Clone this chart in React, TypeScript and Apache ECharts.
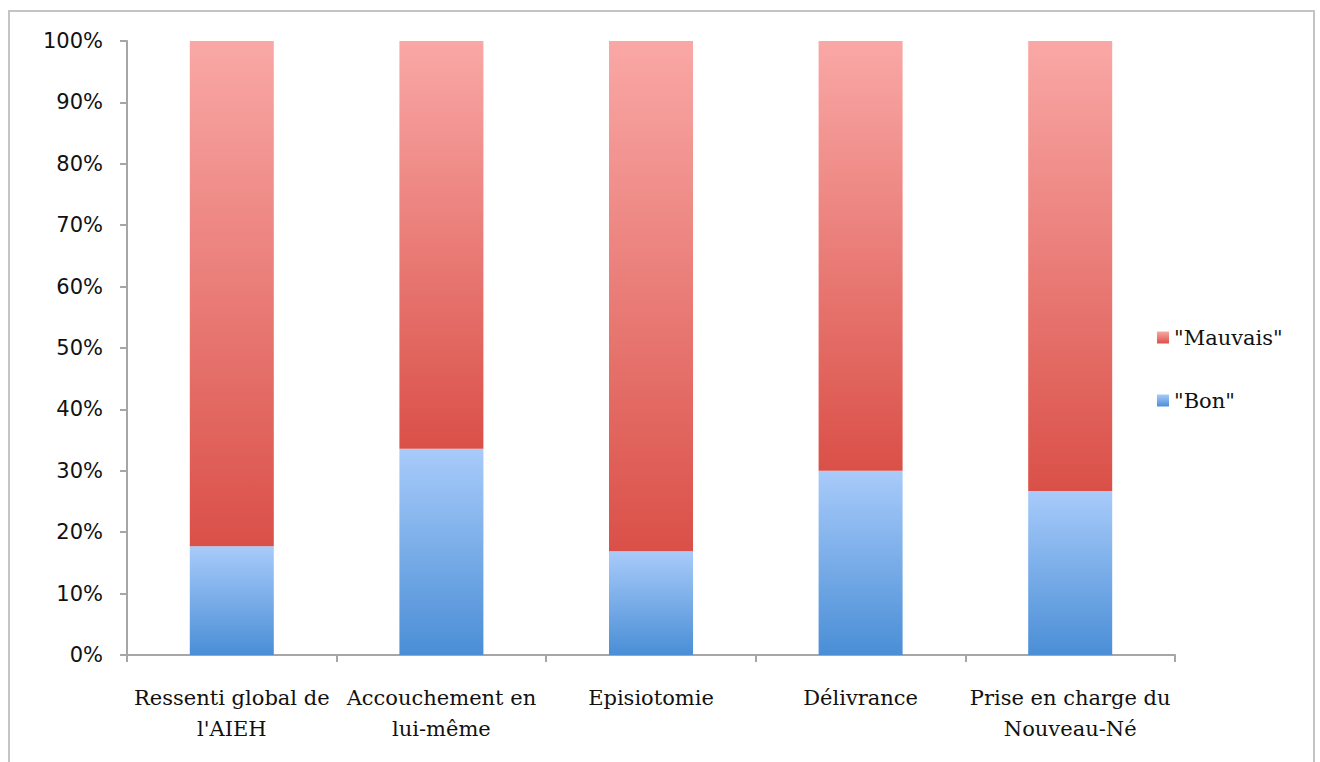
import React, { useEffect, useRef } from "react";
import * as echarts from "echarts";

const categories = [
  "Ressenti global de\nl'AIEH",
  "Accouchement en\nlui-même",
  "Episiotomie",
  "Délivrance",
  "Prise en charge du\nNouveau-Né",
];
const bonValues = [17.7, 33.6, 16.9, 30.0, 26.7];
const mauvaisValues = bonValues.map((v) => +(100 - v).toFixed(1));
const yTicks = [0, 10, 20, 30, 40, 50, 60, 70, 80, 90, 100];

const redGrad = () =>
  new echarts.graphic.LinearGradient(0, 0, 0, 1, [
    { offset: 0, color: "#F9A8A6" },
    { offset: 1, color: "#DA5048" },
  ]);
const blueGrad = () =>
  new echarts.graphic.LinearGradient(0, 0, 0, 1, [
    { offset: 0, color: "#A8CBFA" },
    { offset: 1, color: "#4A8ED6" },
  ]);

export default function App() {
  const ref = useRef<HTMLDivElement>(null);
  useEffect(() => {
    document.body.style.margin = "0";
    const chart = echarts.init(ref.current!, null, { renderer: "svg" });
    chart.setOption({
      animation: false,
      backgroundColor: "#ffffff",
      graphic: [
        {
          type: "rect",
          shape: { x: 9, y: 11, width: 1305, height: 770 },
          style: { fill: "none", stroke: "#C4C4C4", lineWidth: 2 },
          silent: true,
        },
      ],
      grid: { left: 127, right: 145, top: 41, bottom: 107, containLabel: false },
      legend: {
        orient: "vertical",
        left: 1152,
        top: 322,
        itemWidth: 12,
        itemHeight: 12,
        itemGap: 42,
        icon: "rect",
        textStyle: { fontFamily: "DejaVu Serif", fontSize: 21, color: "#111" },
        data: [
          { name: '"Mauvais"', itemStyle: { color: redGrad() } },
          { name: '"Bon"', itemStyle: { color: blueGrad() } },
        ],
      },
      xAxis: {
        type: "category",
        data: categories,
        axisLine: { lineStyle: { color: "#A6A6A6", width: 2 } },
        axisTick: { show: true, length: 7, lineStyle: { color: "#A6A6A6", width: 2 } },
        axisLabel: {
          fontFamily: "DejaVu Serif",
          fontSize: 21,
          color: "#111",
          lineHeight: 31,
          margin: 27,
          interval: 0,
        },
      },
      yAxis: {
        type: "value",
        min: 0,
        max: 100,
        interval: 10,
        splitLine: { show: false },
        axisLine: { show: true, lineStyle: { color: "#A6A6A6", width: 2 } },
        axisTick: { show: true, length: 7, lineStyle: { color: "#A6A6A6", width: 2 } },
        axisLabel: {
          fontFamily: "DejaVu Sans",
          fontSize: 21,
          color: "#111",
          margin: 24,
          formatter: (v: number) => (yTicks.includes(v) ? v + "%" : ""),
        },
      },
      series: [
        {
          name: '"Bon"',
          type: "bar",
          stack: "total",
          barWidth: 84,
          data: bonValues,
          itemStyle: { color: blueGrad() },
        },
        {
          name: '"Mauvais"',
          type: "bar",
          stack: "total",
          barWidth: 84,
          data: mauvaisValues,
          itemStyle: { color: redGrad() },
        },
      ],
    });
    return () => chart.dispose();
  }, []);
  return (
    <div
      ref={ref}
      style={{ position: "absolute", left: 0, top: 0, width: 1320, height: 762 }}
    />
  );
}
